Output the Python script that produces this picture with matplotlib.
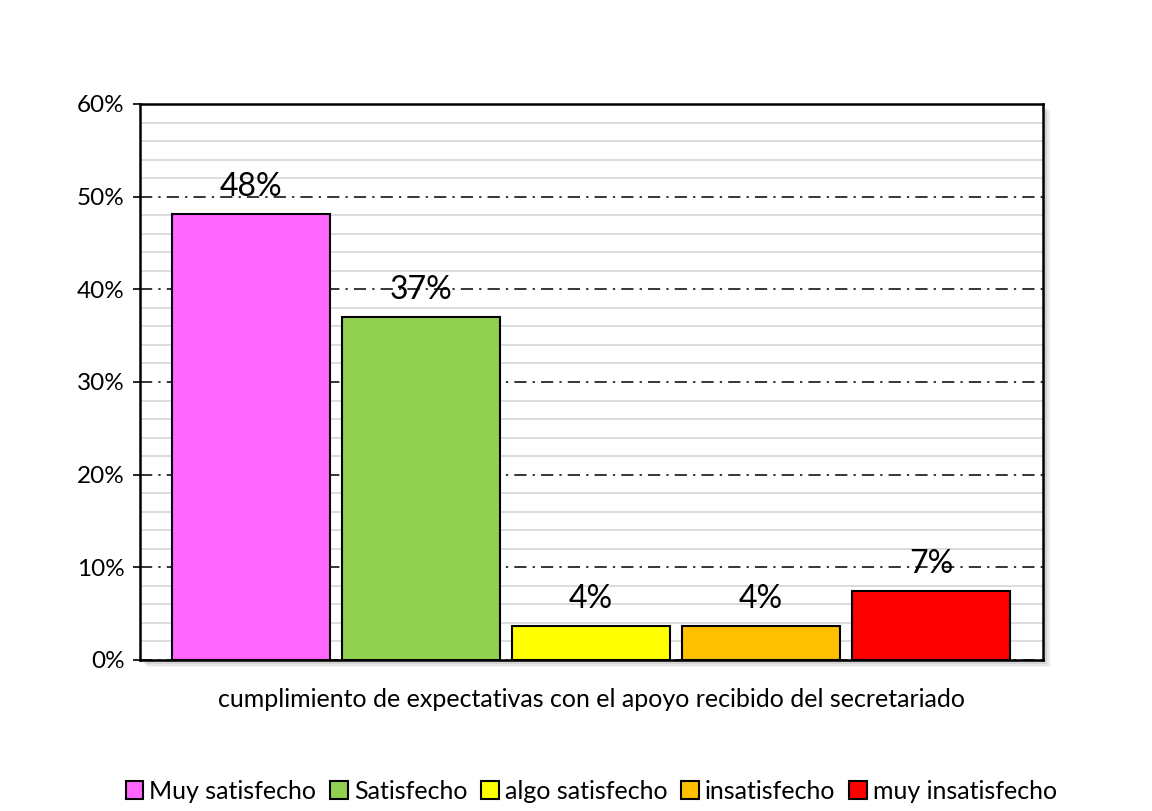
import matplotlib.pyplot as plt
import matplotlib as mpl
from matplotlib.patches import Rectangle
from matplotlib.ticker import MultipleLocator, PercentFormatter

mpl.rcParams['font.family'] = ['Lato', 'DejaVu Sans']
mpl.rcParams['font.size'] = 17

# Category names, percentages and colours
categories = ["Muy satisfecho", "Satisfecho", "algo satisfecho", "insatisfecho", "muy insatisfecho"]
values = [48.1, 37.0, 3.7, 3.7, 7.4]
labels = ["48%", "37%", "4%", "4%", "7%"]
colors = ["#ff66ff", "#92d050", "#ffff00", "#ffc000", "#ff0000"]

fig = plt.figure(figsize=(11.52, 8.11), dpi=100)
pos = [0.1215, 0.1862, 0.7839, 0.6856]

# soft shadow behind the plot area
for i, a in enumerate([0.10, 0.08, 0.06, 0.04]):
    off = 0.002 + i * 0.0015
    fig.patches.append(Rectangle((pos[0] + off, pos[1] - off * 1.4), pos[2], pos[3],
                                 transform=fig.transFigure, facecolor="black",
                                 alpha=a, edgecolor="none", zorder=0))

ax = fig.add_axes(pos)
ax.set_zorder(2)

x = range(len(categories))
bars = ax.bar(x, values, width=0.929, color=colors, edgecolor="black",
              linewidth=1.5, zorder=3)

for xi, v, lab in zip(x, values, labels):
    ax.text(xi, v + 1.3, lab, ha="center", va="bottom", fontsize=23, zorder=4)

ax.set_xlim(-0.653, 4.659)
ax.set_ylim(0, 60)
ax.yaxis.set_major_locator(MultipleLocator(10))
ax.yaxis.set_minor_locator(MultipleLocator(2))
ax.yaxis.set_major_formatter(PercentFormatter(decimals=0))
ax.grid(True, which="minor", axis="y", color="#d9d9d9", linewidth=1.3, zorder=1)
ax.grid(True, which="major", axis="y", color="black", linewidth=1.1,
        linestyle=(0, (8, 4, 1.5, 4)), zorder=2)
ax.set_axisbelow(True)
ax.set_xticks([])
ax.tick_params(axis="y", which="major", length=5, width=1.2, labelsize=17.5, pad=6)
ax.tick_params(axis="y", which="minor", length=0)
for s in ax.spines.values():
    s.set_linewidth(1.8)
ax.set_facecolor("white")

ax.set_xlabel("cumplimiento de expectativas con el apoyo recibido del secretariado",
              fontsize=18, labelpad=20)

ax.legend(bars, categories, loc="center", bbox_to_anchor=(0.5, -0.236),
          ncol=5, frameon=False, handlelength=0.7, handleheight=0.7,
          handletextpad=0.25, columnspacing=0.55, fontsize=18)

fig.savefig("out.png", dpi=100)
